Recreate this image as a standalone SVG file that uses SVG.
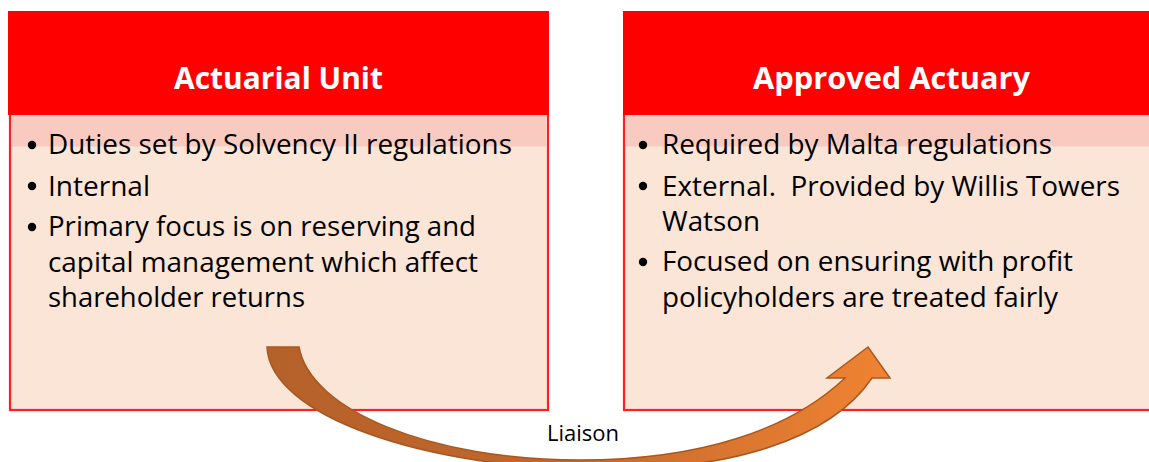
<svg xmlns="http://www.w3.org/2000/svg" width="1149" height="462" viewBox="0 0 1149 462">
  <style>
    .header { fill: #FF0000; }
    .body { fill: #FBE5D7; stroke: #FF1F1F; stroke-width: 2.2; }
    .band { fill: #F9CBC0; }
    .title { font-family: "Open Sans", "Liberation Sans", sans-serif; font-weight: bold; font-size: 30px; fill: #FFFFFF; }
    .item { font-family: "Open Sans", "Liberation Sans", sans-serif; font-size: 27px; fill: #000000; }
    .bullet { fill: #000000; }
    .label { font-family: "Open Sans", "Liberation Sans", sans-serif; font-size: 21.5px; fill: #000000; }
    .arrow { fill: url(#arrowFill); stroke: #A8581F; stroke-width: 1.5; stroke-linejoin: miter; }
  </style>
  <defs>
    <linearGradient id="arrowFill" gradientUnits="userSpaceOnUse" x1="267" y1="0" x2="890" y2="0">
      <stop offset="0" stop-color="#B5612A"/>
      <stop offset="0.45" stop-color="#C0672C"/>
      <stop offset="1" stop-color="#F08332"/>
    </linearGradient>
  </defs>

  <rect width="1149" height="462" fill="#FFFFFF"/>

  <!-- Left box: Actuarial Unit -->
  <g id="node-actuarial-unit">
    <rect class="body" x="10" y="115" width="538" height="295"/>
    <rect class="band" x="11.1" y="115" width="535.8" height="31.5"/>
    <rect class="header" x="8" y="11" width="541" height="104"/>
    <text class="title" x="174" y="88.5" textLength="209" lengthAdjust="spacingAndGlyphs">Actuarial Unit</text>
    <circle class="bullet" cx="32" cy="145" r="4.2"/>
    <circle class="bullet" cx="32" cy="186" r="4.2"/>
    <circle class="bullet" cx="32" cy="227" r="4.2"/>
    <text class="item" x="48" y="154.3" textLength="464" lengthAdjust="spacingAndGlyphs">Duties set by Solvency II regulations</text>
    <text class="item" x="48" y="195.7" textLength="102" lengthAdjust="spacingAndGlyphs">Internal</text>
    <text class="item" x="48" y="236" textLength="428" lengthAdjust="spacingAndGlyphs">Primary focus is on reserving and</text>
    <text class="item" x="48" y="271.5" textLength="430" lengthAdjust="spacingAndGlyphs">capital management which affect</text>
    <text class="item" x="48" y="306.7" textLength="257" lengthAdjust="spacingAndGlyphs">shareholder returns</text>
  </g>

  <!-- Right box: Approved Actuary -->
  <g id="node-approved-actuary">
    <rect class="body" x="624" y="115" width="538" height="295"/>
    <rect class="band" x="625.1" y="115" width="535.8" height="31.5"/>
    <rect class="header" x="623" y="11" width="541" height="104"/>
    <text class="title" x="753" y="88.5" textLength="277" lengthAdjust="spacingAndGlyphs">Approved Actuary</text>
    <circle class="bullet" cx="643" cy="145" r="4.2"/>
    <circle class="bullet" cx="643" cy="186" r="4.2"/>
    <circle class="bullet" cx="643" cy="262" r="4.2"/>
    <text class="item" x="662" y="154.3" textLength="390" lengthAdjust="spacingAndGlyphs">Required by Malta regulations</text>
    <text class="item" x="662" y="195.5" textLength="458" lengthAdjust="spacingAndGlyphs" xml:space="preserve">External.  Provided by Willis Towers</text>
    <text class="item" x="662" y="230.5" textLength="98" lengthAdjust="spacingAndGlyphs">Watson</text>
    <text class="item" x="662" y="271.3" textLength="411" lengthAdjust="spacingAndGlyphs">Focused on ensuring with profit</text>
    <text class="item" x="662" y="306.5" textLength="396" lengthAdjust="spacingAndGlyphs">policyholders are treated fairly</text>
  </g>

  <!-- Connector: curved liaison arrow between the two boxes -->
  <g id="connectors">
    <path class="arrow" d="M267,347 L299,347
      C310,410 430,460 580,460
      C700,460 790,430 845,378
      L827,378 L868,347 L890,378 L872,378
      C830,440 730,470 600,470
      C420,468 270,415 267,347 Z"/>
    <text class="label" x="547" y="441" textLength="72" lengthAdjust="spacingAndGlyphs">Liaison</text>
  </g>
</svg>
